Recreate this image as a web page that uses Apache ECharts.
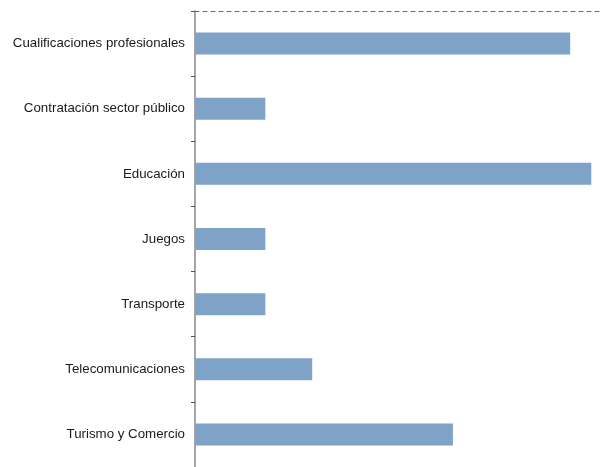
<!DOCTYPE html>
<html>
<head>
<meta charset="utf-8">
<script src="https://cdn.jsdelivr.net/npm/echarts@6/dist/echarts.min.js"></script>
<style>
  html, body { margin: 0; padding: 0; background: #fff; }
  #chart { width: 603px; height: 467px; }
</style>
</head>
<body>
<div id="chart"></div>
<script>
// categories top to bottom
const categories = [
  'Cualificaciones profesionales',
  'Contratación sector público',
  'Educación',
  'Juegos',
  'Transporte',
  'Telecomunicaciones',
  'Turismo y Comercio'
];
const values = [16, 3, 16.9, 3, 3, 5, 11];

const chart = echarts.init(document.getElementById('chart'));
chart.setOption({
  animation: false,
  grid: {
    left: 195,
    right: 0,
    top: 11,
    bottom: -3,
    containLabel: false
  },
  xAxis: {
    type: 'value',
    position: 'top',
    min: 0,
    max: 17.4,
    axisLine: {
      show: true,
      lineStyle: { color: '#666', type: [4, 4], width: 1 }
    },
    axisTick: { show: false },
    axisLabel: { show: false },
    splitLine: { show: false }
  },
  yAxis: {
    type: 'category',
    data: categories,
    inverse: true,
    axisLine: {
      show: true,
      onZero: false,
      lineStyle: { color: '#888', width: 1.5 }
    },
    axisTick: {
      show: true,
      length: 4,
      lineStyle: { color: '#555' }
    },
    axisLabel: {
      margin: 10,
      padding: [2, 0, 0, 0],
      color: '#1a1a1a',
      fontSize: 13.3,
      fontFamily: 'Liberation Sans, Arial, sans-serif'
    }
  },
  series: [
    {
      type: 'bar',
      data: values,
      barWidth: 22,
      itemStyle: { color: '#7fa2c7' }
    }
  ]
});
</script>
</body>
</html>
